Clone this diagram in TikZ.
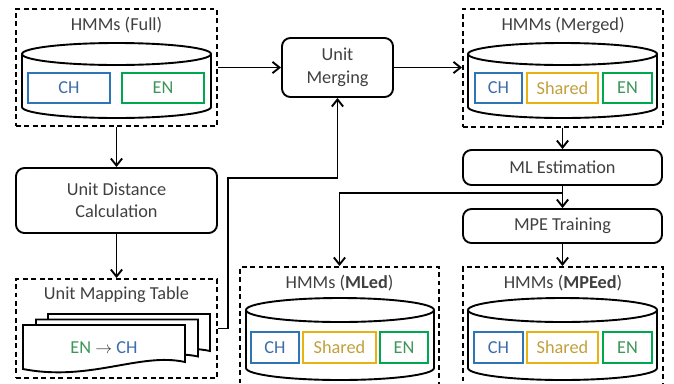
\documentclass[tikz,border=0pt]{standalone}
\usepackage{fontspec}
\setmainfont{Carlito}
\usetikzlibrary{arrows.meta}
\definecolor{txtgray}{RGB}{64,64,64}
\definecolor{chblue}{RGB}{46,117,182}
\definecolor{engreen}{RGB}{0,166,80}
\definecolor{shgold}{RGB}{230,178,20}
\definecolor{chtext}{RGB}{60,110,170}
\definecolor{entext}{RGB}{60,150,90}
\definecolor{shtext}{RGB}{195,160,60}

\begin{document}
\begin{tikzpicture}[x=0.025cm, y=-0.025cm, line width=1.35pt,
    every node/.style={font=\fontsize{13}{16}\selectfont, text=txtgray},
    group/.style={draw, dash pattern=on 3.5pt off 2.5pt, inner sep=0pt},
    proc/.style={draw, rounded corners=6pt, align=center, inner sep=0pt},
    unit/.style={draw=#1, line width=1.5pt, minimum height=0.75cm, inner sep=0pt},
    ch/.style={unit=chblue, text=chtext},
    en/.style={unit=engreen, text=entext},
    shared/.style={unit=shgold, text=shtext},
    flow/.style={-{Straight Barb[length=5pt,width=8pt]}}]
      \clip (0,0) rectangle (674,383);

      % model groups
      \node[group, minimum width=5.025cm, minimum height=2.925cm] (full)   at (116.5,67.5) {};
      \node[group, minimum width=5cm,     minimum height=2.95cm]  (merged) at (563,68) {};
      \node[group, minimum width=4.975cm, minimum height=3.5cm]   (mled)   at (339.5,337) {};
      \node[group, minimum width=5cm,     minimum height=3.5cm]   (mpeed)  at (563,337) {};
      \node[group, minimum width=5.025cm, minimum height=2.475cm] (table)  at (116.5,328.5) {};

      \node (fulltitle)   at (116.5,25) {HMMs (Full)};
      \node (mergedtitle) at (563,25)   {HMMs (Merged)};
      \node (mledtitle)   at (339.5,283) {HMMs (\textbf{MLed})};
      \node (mpeedtitle)  at (563,283)  {HMMs (\textbf{MPEed})};
      \node (tabletitle)  at (116.5,295) {Unit Mapping Table};

      % cylinders
      \foreach \cx/\ty/\by/\rx/\ry in {116.5/54/107/94.5/11, 562.5/54/107/94.5/11,
                                       340/310/368/94/12, 562.5/310/368/94.5/12} {
        \draw[fill=white] (\cx,\by) ellipse [x radius=\rx, y radius=\ry];
        \fill[white] (\cx-\rx,\ty) rectangle (\cx+\rx,\by);
        \draw (\cx-\rx,\ty) -- (\cx-\rx,\by) (\cx+\rx,\ty) -- (\cx+\rx,\by);
        \draw[fill=white] (\cx,\ty) ellipse [x radius=\rx, y radius=\ry];
      }

      \node[ch, minimum width=2.05cm] (fullch) at (69,88)  {CH};
      \node[en, minimum width=2.05cm] (fullen) at (163,88) {EN};

      \node[ch,     minimum width=1.175cm] (mgch) at (498.5,88) {CH};
      \node[shared, minimum width=1.775cm] (mgsh) at (562.5,88) {Shared};
      \node[en,     minimum width=1.225cm] (mgen) at (627.5,88) {EN};

      \node[ch,     minimum width=1.2cm,   minimum height=0.775cm] (mlch) at (275,347.5)   {CH};
      \node[shared, minimum width=1.825cm, minimum height=0.775cm] (mlsh) at (339.5,347.5) {Shared};
      \node[en,     minimum width=1.2cm,   minimum height=0.775cm] (mlen) at (404,347.5)   {EN};

      \node[ch,     minimum width=1.225cm, minimum height=0.775cm] (mpch) at (498.5,347.5) {CH};
      \node[shared, minimum width=1.775cm, minimum height=0.775cm] (mpsh) at (562.5,347.5) {Shared};
      \node[en,     minimum width=1.225cm, minimum height=0.775cm] (mpen) at (627.5,347.5) {EN};

      % mapping table sheets
      \foreach \dx/\dy in {25/-11, 13/-5.5, 0/0}
        \draw[fill=white, shift={(\dx,\dy)}] (23,325) -- (185,325) -- (185,362)
          .. controls (140,352) and (90,382) .. (23,369) -- cycle;
      \node (maptext) at (104,348) {\textcolor{entext}{EN} $\rightarrow$ \textcolor{chtext}{CH}};

      % processing steps
      \node[proc, minimum width=5.025cm, minimum height=1.625cm] (dist)  at (116.5,200.5) {Unit Distance\\Calculation};
      \node[proc, minimum width=2.775cm, minimum height=1.475cm] (merge) at (337.5,67.5) {Unit\\Merging};
      \node[proc, minimum width=4.975cm, minimum height=0.875cm] (mle)   at (562.5,167.5) {ML Estimation};
      \node[proc, minimum width=4.975cm, minimum height=0.85cm]  (mpe)   at (562.5,226) {MPE Training};

      \coordinate (bend) at (228,178);

      \draw[flow] (full) -- (merge);
      \draw[flow] (merge.east) -- (merge.east -| merged.west);
      \draw[flow] (full) -- (dist);
      \draw[flow] (dist) -- (table);
      \draw[flow] (mle.north |- merged.south) -- (mle.north);
      \draw[flow] (mle) -- (mpe);
      \draw[flow] (mpe.south) -- (mpe.south |- mpeed.north);
      \draw[flow] (mle.south) -- ++(0,7) -| (mled.north);
      \draw[flow] (table.east) -| (bend) -| (merge.south);
    \end{tikzpicture}
\end{document}
